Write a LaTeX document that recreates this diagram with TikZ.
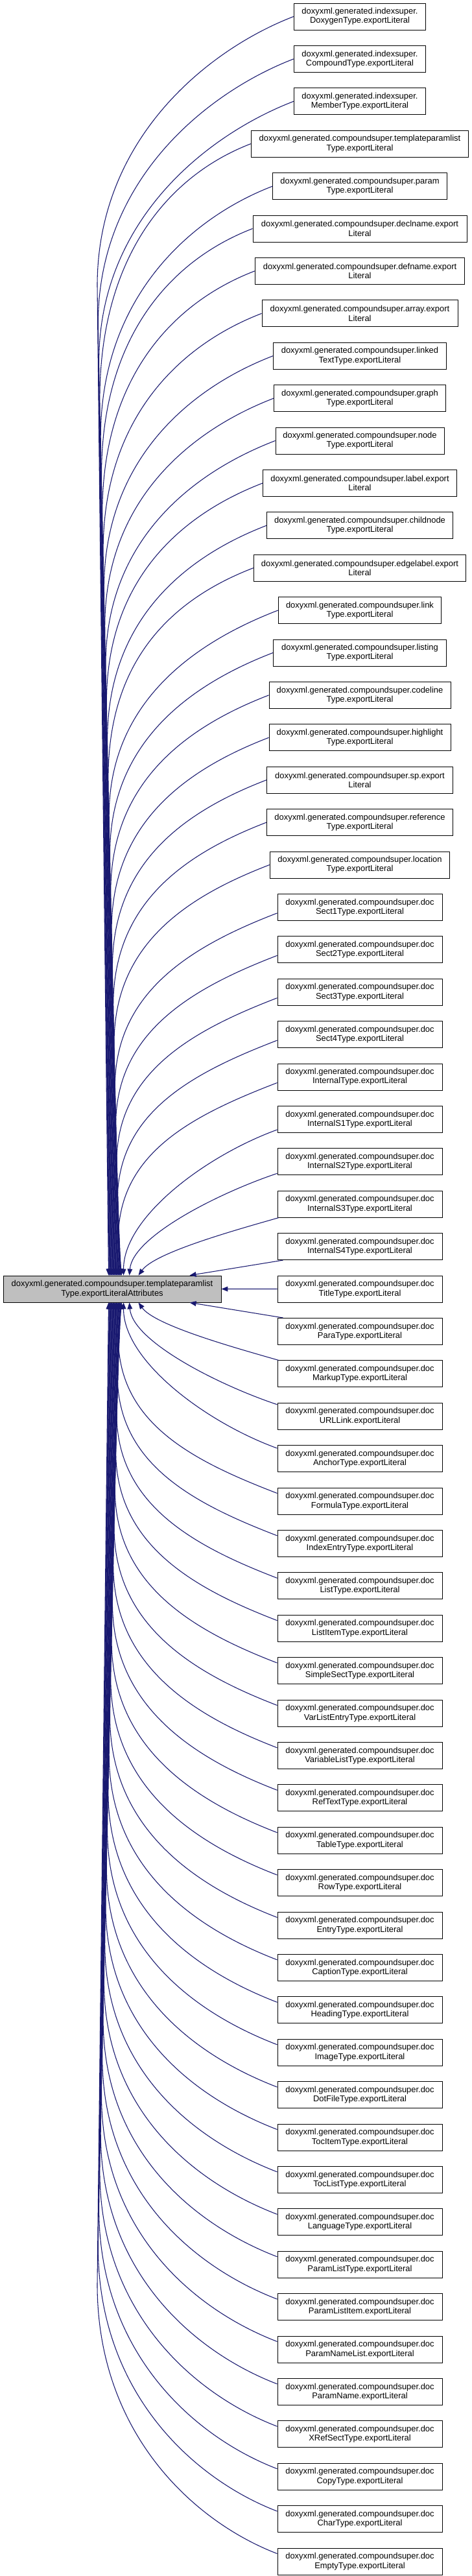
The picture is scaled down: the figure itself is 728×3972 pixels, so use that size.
\documentclass[tikz,border=0pt]{standalone}
\usepackage{fontspec}
\setmainfont{Liberation Sans}
\usetikzlibrary{calc,arrows.meta}
\definecolor{edgeblue}{HTML}{191970}
\definecolor{focusgray}{HTML}{BFBFBF}
\begin{document}
\begin{tikzpicture}[x=0.75pt,y=-0.75pt,
  box/.style={draw=black, line width=0.7pt, fill=white, align=center,
    minimum height=30.75pt, inner sep=0pt, font=\fontsize{9.7}{10.7}\selectfont},
  edge/.style={draw=edgeblue, line width=0.8pt, -{Triangle[length=7.5pt,width=5.8pt]}}]
\fill[white] (0,0) rectangle (728,3972);
\useasboundingbox (0,0) rectangle (728,3972);

\node[box, fill=focusgray, minimum width=252pt] (L) at (173,1987.5)
  {doxyxml.generated.compoundsuper.templateparamlist\\Type.exportLiteralAttributes};

\node[box, minimum width=152.6pt] (r1) at (555,25.5) {doxyxml.generated.indexsuper.\\DoxygenType.exportLiteral};
\node[box, minimum width=152.6pt] (r2) at (555,90.9) {doxyxml.generated.indexsuper.\\CompoundType.exportLiteral};
\node[box, minimum width=152.6pt] (r3) at (555,156.3) {doxyxml.generated.indexsuper.\\MemberType.exportLiteral};
\node[box, minimum width=251.6pt] (r4) at (555,221.7) {doxyxml.generated.compoundsuper.templateparamlist\\Type.exportLiteral};
\node[box, minimum width=201.2pt] (r5) at (555,287.1) {doxyxml.generated.compoundsuper.param\\Type.exportLiteral};
\node[box, minimum width=247.5pt] (r6) at (555,352.5) {doxyxml.generated.compoundsuper.declname.export\\Literal};
\node[box, minimum width=242.6pt] (r7) at (555,417.9) {doxyxml.generated.compoundsuper.defname.export\\Literal};
\node[box, minimum width=226.5pt] (r8) at (555,483.3) {doxyxml.generated.compoundsuper.array.export\\Literal};
\node[box, minimum width=200pt] (r9) at (555,548.7) {doxyxml.generated.compoundsuper.linked\\TextType.exportLiteral};
\node[box, minimum width=198.5pt] (r10) at (555,614.1) {doxyxml.generated.compoundsuper.graph\\Type.exportLiteral};
\node[box, minimum width=195pt] (r11) at (555,679.5) {doxyxml.generated.compoundsuper.node\\Type.exportLiteral};
\node[box, minimum width=224pt] (r12) at (555,744.9) {doxyxml.generated.compoundsuper.label.export\\Literal};
\node[box, minimum width=215.3pt] (r13) at (555,810.3) {doxyxml.generated.compoundsuper.childnode\\Type.exportLiteral};
\node[box, minimum width=245.6pt] (r14) at (555,875.7) {doxyxml.generated.compoundsuper.edgelabel.export\\Literal};
\node[box, minimum width=188.8pt] (r15) at (555,941.1) {doxyxml.generated.compoundsuper.link\\Type.exportLiteral};
\node[box, minimum width=200.3pt] (r16) at (555,1006.5) {doxyxml.generated.compoundsuper.listing\\Type.exportLiteral};
\node[box, minimum width=210pt] (r17) at (555,1071.9) {doxyxml.generated.compoundsuper.codeline\\Type.exportLiteral};
\node[box, minimum width=210pt] (r18) at (555,1137.3) {doxyxml.generated.compoundsuper.highlight\\Type.exportLiteral};
\node[box, minimum width=215.5pt] (r19) at (555,1202.7) {doxyxml.generated.compoundsuper.sp.export\\Literal};
\node[box, minimum width=215.5pt] (r20) at (555,1268.1) {doxyxml.generated.compoundsuper.reference\\Type.exportLiteral};
\node[box, minimum width=208.3pt] (r21) at (555,1333.5) {doxyxml.generated.compoundsuper.location\\Type.exportLiteral};

\foreach \nm [count=\k from 22] in {Sect1Type,Sect2Type,Sect3Type,Sect4Type,InternalType,InternalS1Type,InternalS2Type,InternalS3Type,InternalS4Type,TitleType,ParaType,MarkupType,URLLink,AnchorType,FormulaType,IndexEntryType,ListType,ListItemType,SimpleSectType,VarListEntryType,VariableListType,RefTextType,TableType,RowType,EntryType,CaptionType,HeadingType,ImageType,DotFileType,TocItemType,TocListType,LanguageType,ParamListType,ParamListItem,ParamNameList,ParamName,XRefSectType,CopyType,CharType,EmptyType}{
  \pgfmathsetmacro\yy{25.5+(\k-1)*65.4}
  \node[box, minimum width=190.5pt] (r\k) at (555,\yy) {doxyxml.generated.compoundsuper.doc\\\nm.exportLiteral};
}

% edges from nodes above (far)
\foreach \i in {1,...,26}{
  \pgfmathsetmacro\d{31-\i}
  \pgfmathsetmacro\xv{150+(30-\d)*1.3}
  \pgfmathsetmacro\xt{188-(\d-5)*0.8-5}
  \pgfmathsetmacro\dy{(\i>21)*9}
  \pgfmathsetmacro\bb{240+(\d-5)*7}
  \pgfmathsetmacro\cc{-0.55*\bb}
  \pgfmathsetmacro\yw{25.5+(\i-1)*65.4+\dy+\bb}
  \draw[edge] ($(r\i.west)+(0,\dy)$) .. controls +(-130,50) and +(0,\cc) .. (\xv,\yw) -- ($(L.north west)+(\xt,0)$);
}
% edges from nodes above (near)
\draw[edge] ($(r27.west)+(0,16)$) .. controls +(-110,40) and +(0,-90) .. ($(L.north west)+(186,0)$);
\draw[edge] ($(r28.west)+(0,18)$) .. controls +(-90,30) and +(5,-60) .. ($(L.north west)+(195,0)$);
\draw[edge] ($(r29.south west)+(2,0)$) .. controls +(-70,20) and +(25,-35) .. ($(L.north west)+(209,0)$);
\draw[edge] ($(r30.south west)+(9,0)$) -- ($(L.north west)+(288,0)$);
% same row
\draw[edge] (r31.west) -- (L.east);
% edges from nodes below (near)
\draw[edge] ($(r32.north west)+(9,0)$) -- ($(L.south west)+(288,0)$);
\draw[edge] ($(r33.north west)+(2,0)$) .. controls +(-70,-20) and +(25,35) .. ($(L.south west)+(209,0)$);
\draw[edge] ($(r34.west)+(0,-18)$) .. controls +(-90,-30) and +(5,60) .. ($(L.south west)+(195,0)$);
\draw[edge] ($(r35.west)+(0,-16)$) .. controls +(-110,-40) and +(0,90) .. ($(L.south west)+(186,0)$);
% edges from nodes below (far)
\foreach \i in {36,...,61}{
  \pgfmathsetmacro\d{\i-31}
  \pgfmathsetmacro\xv{150+(30-\d)*1.3}
  \pgfmathsetmacro\xt{188-(\d-5)*0.8-5}
  \pgfmathsetmacro\bb{240+(\d-5)*7}
  \pgfmathsetmacro\cc{0.55*\bb}
  \pgfmathsetmacro\yw{25.5+(\i-1)*65.4-12-\bb}
  \draw[edge] ($(r\i.west)+(0,-12)$) .. controls +(-130,-50) and +(0,\cc) .. (\xv,\yw) -- ($(L.south west)+(\xt,0)$);
}
\end{tikzpicture}
\end{document}
